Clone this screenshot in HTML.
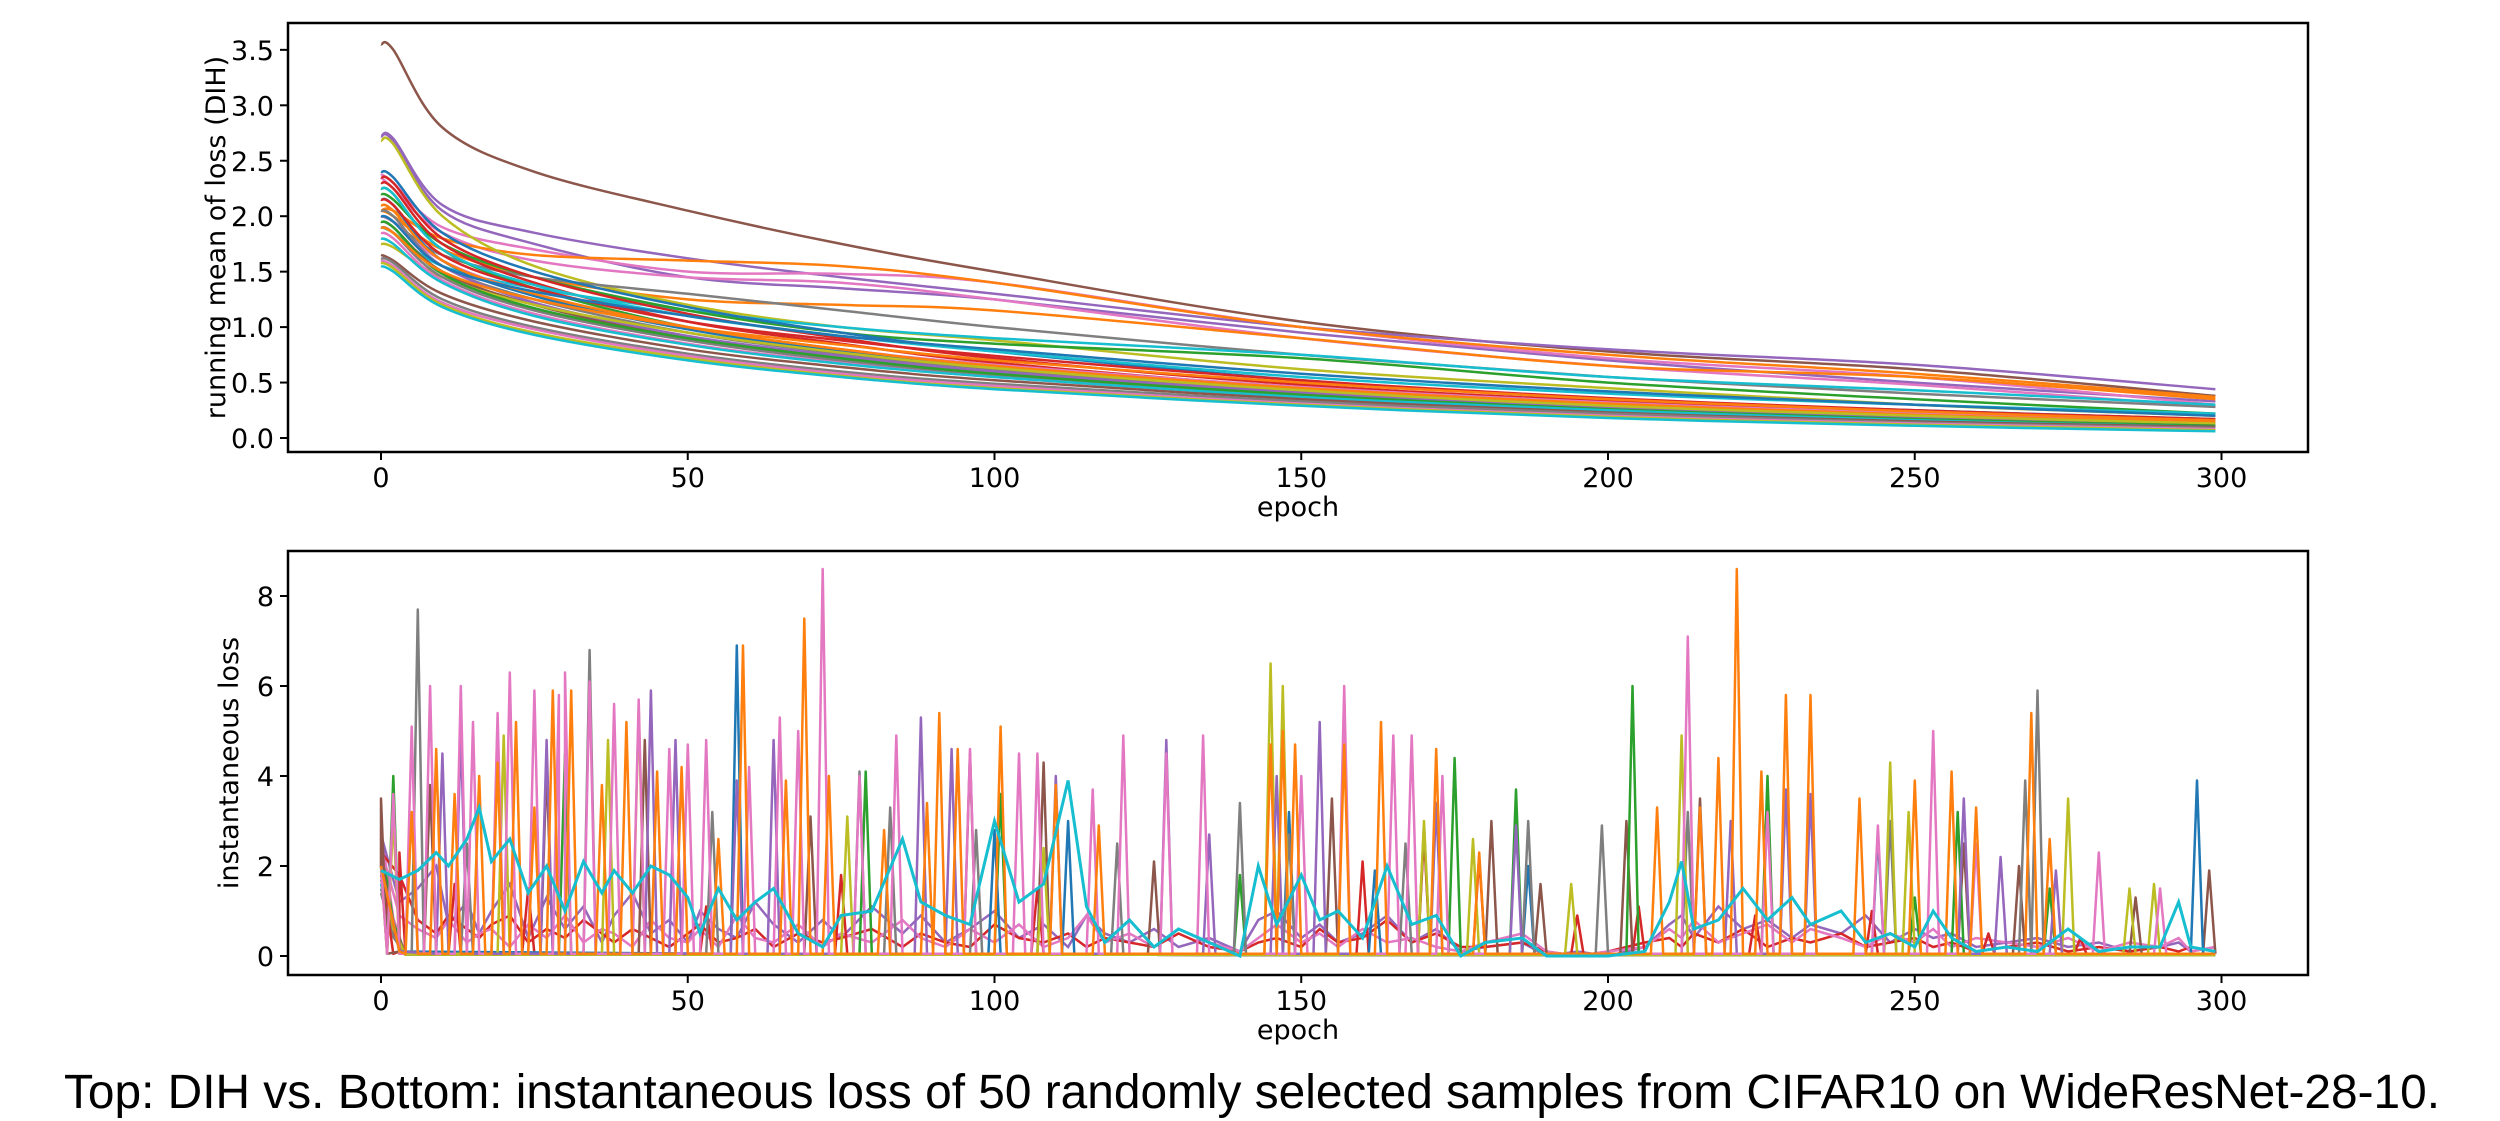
<!DOCTYPE html>
<html><head><meta charset="utf-8"><style>
html,body{margin:0;padding:0;background:#fff;width:2500px;height:1121px;overflow:hidden}
svg{display:block}
text{font-family:"DejaVu Sans","Liberation Sans",sans-serif;fill:#000}
</style></head><body>
<svg id="chart" width="2500" height="1121">
<g id="top"></g>
<g id="bot"></g>
<text x="64" y="1108" textLength="2376" lengthAdjust="spacingAndGlyphs" style="font-family:'Liberation Sans',sans-serif;font-size:48px">Top: DIH vs. Bottom: instantaneous loss of 50 randomly selected samples from CIFAR10 on WideResNet-28-10.</text>
</svg>
<script>
const COLORS = ["#1f77b4","#ff7f0e","#2ca02c","#d62728","#9467bd","#8c564b","#e377c2","#7f7f7f","#bcbd22","#17becf"];
// top chart data
const topEpochs = [0,2,10,25,50,75,100,150,200,250,299];
const topColorIdx = [5,4,4,6,6,1,1,8,7,9,2,0,3,3,2,9,6,7,5,0,1,4,8,6,7,2,9,5,7,6,8,9,3,0,1];
const topSeries = [
[3.55,3.5,2.8,2.4,2.05,1.75,1.5,1.05,0.78,0.62,0.38],
[2.72,2.7,2.1,1.85,1.62,1.45,1.3,1.0,0.8,0.66,0.44],
[2.72,2.68,2.05,1.75,1.45,1.35,1.25,0.95,0.7,0.5,0.33],
[2.38,2.3,1.9,1.7,1.5,1.48,1.4,1.0,0.72,0.55,0.3],
[2.35,2.25,1.85,1.6,1.45,1.4,1.25,0.9,0.65,0.48,0.28],
[2.05,2.05,1.8,1.65,1.6,1.55,1.4,1.0,0.75,0.58,0.37],
[2.05,2.0,1.7,1.45,1.25,1.2,1.15,0.9,0.65,0.55,0.35],
[2.68,2.65,2.0,1.55,1.2,1.0,0.88,0.62,0.45,0.3,0.2],
[2.0,1.95,1.65,1.45,1.3,1.15,1.0,0.75,0.55,0.4,0.28],
[1.9,1.85,1.55,1.35,1.15,1.0,0.9,0.75,0.55,0.43,0.3],
[2.2,2.15,1.75,1.45,1.15,0.95,0.85,0.72,0.5,0.35,0.22],
[2.4,2.35,1.85,1.5,1.18,0.95,0.78,0.52,0.35,0.25,0.17],
[2.35,2.3,1.8,1.45,1.12,0.9,0.72,0.48,0.33,0.22,0.15],
[2.3,2.25,1.75,1.4,1.05,0.85,0.68,0.45,0.3,0.2,0.14],
[2.25,2.2,1.7,1.35,1.0,0.8,0.65,0.43,0.29,0.2,0.13],
[2.25,2.2,1.7,1.38,1.1,0.92,0.78,0.55,0.4,0.3,0.22],
[2.0,1.95,1.6,1.3,1.0,0.8,0.66,0.46,0.32,0.22,0.15],
[2.05,2.0,1.55,1.25,0.95,0.76,0.62,0.42,0.28,0.19,0.13],
[1.95,1.9,1.5,1.2,0.9,0.72,0.59,0.4,0.27,0.18,0.12],
[2.15,2.1,1.6,1.28,0.98,0.78,0.64,0.44,0.3,0.2,0.13],
[2.1,2.05,1.6,1.3,1.0,0.8,0.65,0.45,0.31,0.21,0.14],
[2.0,1.95,1.55,1.22,0.92,0.74,0.6,0.41,0.28,0.19,0.12],
[1.75,1.72,1.45,1.2,0.95,0.77,0.63,0.43,0.29,0.2,0.13],
[1.85,1.8,1.42,1.12,0.85,0.68,0.55,0.37,0.25,0.16,0.1],
[1.9,1.85,1.45,1.15,0.88,0.7,0.57,0.38,0.26,0.17,0.11],
[1.95,1.9,1.48,1.17,0.9,0.72,0.58,0.39,0.26,0.17,0.11],
[1.8,1.75,1.4,1.1,0.84,0.67,0.55,0.37,0.25,0.16,0.1],
[1.65,1.6,1.3,1.05,0.8,0.64,0.52,0.35,0.23,0.15,0.1],
[1.62,1.58,1.25,1.0,0.76,0.6,0.49,0.33,0.22,0.14,0.09],
[1.6,1.55,1.22,0.98,0.74,0.58,0.47,0.31,0.2,0.13,0.08],
[1.58,1.53,1.2,0.95,0.72,0.56,0.45,0.3,0.19,0.12,0.07],
[1.55,1.5,1.18,0.93,0.7,0.55,0.44,0.29,0.18,0.11,0.06],
[2.15,2.1,1.65,1.35,1.05,0.88,0.74,0.52,0.36,0.25,0.17],
[2.0,1.95,1.55,1.32,1.1,0.92,0.8,0.58,0.42,0.3,0.2],
[1.9,1.85,1.5,1.25,1.0,0.84,0.7,0.5,0.35,0.24,0.16]
];
const topYTicks = [0,0.5,1,1.5,2,2.5,3,3.5];
const topYTickLabels = ["0.0","0.5","1.0","1.5","2.0","2.5","3.0","3.5"];
const xTicks = [0,50,100,150,200,250,300];
const xTickLabels = ["0","50","100","150","200","250","300"];
// bottom chart data
const botYTicks = [0,2,4,6,8];
const botYTickLabels = ["0","2","4","6","8"];
const botStarts = [2.6,2.2,1.9,2.4,1.7,2.0,2.8,1.5,2.3,1.6,2.1,2.5,1.8,2.2,1.4,2.0];
const botStartColorIdx = [0,1,2,3,4,5,6,7,8,9,0,2,3,5,7,8];
const botSpikeColorIdx = [3,5,2,0,7,8,4,6,1];
const botSpikes = [
[[3,2.3],[12,1.6],[24,1.5],[53,1.1],[75,1.8],[107,1.5],[160,2.1],[170,2.7],[179,2.2],[195,0.9],[205,1.1],[224,0.9],[243,1.0],[262,0.5],[277,0.4]],
[[0,3.5],[8,3.8],[27,4.2],[43,4.8],[70,3.1],[96,4.5],[108,4.3],[126,2.1],[155,3.5],[170,2.9],[181,3.0],[189,1.6],[203,3.0],[215,3.5],[258,2.5],[267,2.0],[286,1.3],[298,1.9]],
[[2,4.0],[30,4.5],[79,4.1],[101,3.6],[140,1.8],[175,4.4],[185,3.7],[204,6.0],[226,4.0],[250,1.3],[257,3.2],[272,1.5]],
[[58,6.9],[100,2.8],[112,3.0],[148,3.2],[162,1.9],[187,2.0],[244,2.7],[296,3.9]],
[[6,7.7],[14,2.5],[34,6.8],[54,3.2],[78,4.1],[83,3.3],[97,2.8],[120,2.5],[140,3.4],[148,2.7],[167,2.5],[187,3.0],[199,2.9],[213,3.2],[246,3.0],[268,3.9],[270,5.9]],
[[2,3.1],[20,4.9],[37,4.8],[42,5.5],[76,3.1],[108,2.4],[145,6.5],[147,6.0],[170,3.0],[178,2.6],[194,1.6],[212,4.9],[246,4.3],[249,3.2],[275,3.5],[285,1.5],[289,1.6]],
[[10,4.5],[13,5.0],[27,4.8],[44,5.9],[48,4.8],[58,3.9],[64,4.8],[88,5.3],[93,4.6],[110,4.0],[128,4.8],[135,2.7],[146,4.0],[153,5.2],[172,3.4],[185,2.9],[220,3.0],[229,3.7],[233,3.6],[258,3.5],[264,2.2],[273,1.9]],
[[2,3.6],[5,5.1],[8,6.0],[13,6.0],[15,5.2],[19,5.4],[21,6.3],[25,5.9],[29,5.8],[30,6.3],[34,6.1],[38,5.6],[42,5.7],[47,4.6],[50,4.7],[53,4.8],[60,4.2],[65,5.3],[68,5.0],[72,8.6],[78,4.0],[84,4.9],[96,4.6],[104,4.5],[107,4.5],[116,3.7],[121,4.9],[128,4.5],[134,4.9],[150,4.0],[157,6.0],[165,4.9],[168,4.9],[173,4.0],[213,7.1],[226,3.2],[244,2.9],[253,5.0],[260,2.5],[280,2.3],[290,1.5]],
[[5,3.2],[9,4.6],[12,3.6],[16,4.0],[19,4.3],[22,5.2],[25,3.3],[28,5.9],[31,5.9],[36,3.8],[40,5.2],[45,4.1],[49,4.2],[55,2.6],[59,6.9],[66,3.9],[69,7.5],[73,4.0],[82,2.8],[89,3.4],[91,5.4],[94,4.6],[101,5.1],[110,3.8],[117,2.9],[145,4.7],[147,5.0],[149,4.7],[157,4.7],[163,5.2],[172,4.6],[179,2.3],[208,3.3],[215,3.3],[218,4.4],[221,8.6],[225,4.1],[229,5.8],[233,5.8],[241,3.5],[250,3.9],[256,4.1],[260,3.3],[269,5.4],[272,2.6]]
];
const cyanEpochs = [0,3,6,9,11,14,16,18,21,24,27,30,33,36,38,41,44,47,50,52,55,58,61,64,68,72,75,80,85,88,92,96,100,104,108,112,115,118,122,126,130,135,140,143,146,150,153,156,160,164,168,172,176,180,186,190,195,200,206,210,212,214,218,222,226,230,233,238,242,246,250,253,256,260,265,270,275,280,285,290,293,295,299];
const cyanValues = [1.9,1.7,1.9,2.3,2.0,2.6,3.3,2.1,2.6,1.4,2.0,1.0,2.1,1.4,1.9,1.4,2.0,1.8,1.3,0.5,1.5,0.8,1.2,1.5,0.5,0.2,0.9,1.0,2.6,1.2,0.9,0.7,3.0,1.2,1.6,3.9,1.1,0.3,0.8,0.2,0.6,0.3,0.0,2.0,0.7,1.8,0.8,1.0,0.4,2.0,0.7,0.9,0.0,0.3,0.4,0.0,0.0,0.0,0.1,1.2,2.1,0.6,0.8,1.5,0.8,1.3,0.7,1.0,0.3,0.5,0.2,1.0,0.4,0.1,0.2,0.1,0.6,0.1,0.2,0.2,1.2,0.2,0.1];
// low-level noisy series on the same epoch grid
const pinkLowValues = [2.4,0.9,0.6,0.4,0.8,0.3,0.5,0.6,0.2,0.7,0.4,0.9,0.3,0.6,0.5,0.2,0.8,0.4,0.3,0.6,0.2,0.9,0.4,0.3,0.7,0.2,0.5,0.3,0.8,0.4,0.2,0.6,0.3,0.7,0.2,0.4,0.9,0.3,0.5,0.2,0.6,0.3,0.1,0.4,0.7,0.3,0.5,0.2,0.6,0.3,0.4,0.2,0.1,0.3,0.5,0.1,0.0,0.1,0.2,0.6,0.4,0.8,0.3,0.5,0.7,0.3,0.6,0.4,0.2,0.5,0.3,0.6,0.2,0.4,0.3,0.2,0.4,0.1,0.3,0.2,0.4,0.1,0.2];
const redLowValues = [2.3,1.8,0.8,0.5,0.9,0.6,0.4,0.7,0.9,0.3,0.6,0.4,0.8,0.5,0.3,0.6,0.4,0.2,0.5,0.7,0.3,0.4,0.6,0.2,0.5,0.3,0.4,0.6,0.2,0.5,0.3,0.2,0.7,0.4,0.3,0.5,0.2,0.4,0.3,0.2,0.5,0.2,0.1,0.3,0.4,0.2,0.6,0.3,0.4,0.8,0.3,0.5,0.2,0.2,0.3,0.1,0.0,0.1,0.3,0.4,0.2,0.5,0.3,0.6,0.2,0.4,0.3,0.5,0.2,0.3,0.4,0.2,0.3,0.1,0.2,0.3,0.1,0.2,0.1,0.2,0.1,0.2,0.1];
const purpleLowValues = [2.7,1.2,1.5,2.0,0.7,1.2,0.5,1.0,1.6,0.4,1.3,0.6,1.1,0.3,0.9,1.4,0.5,0.8,0.3,1.0,0.6,0.4,1.2,0.7,0.3,0.8,0.4,1.1,0.5,0.9,0.3,0.6,1.0,0.4,0.7,0.2,0.9,0.5,0.3,0.6,0.2,0.4,0.1,0.8,1.0,0.4,0.7,0.3,0.5,0.9,0.3,0.6,0.1,0.2,0.3,0.0,0.1,0.0,0.2,0.7,0.9,0.4,1.1,0.6,0.8,0.4,0.7,0.5,0.9,0.3,0.6,0.4,0.5,0.2,0.3,0.4,0.2,0.3,0.1,0.2,0.3,0.1,0.2];

const NS = "http://www.w3.org/2000/svg";
const X0 = 381, KX = 6.135;
function xs(e){ return X0 + e*KX; }
function yTop(v){ return 438 - v*110.9; }
function yBot(v){ return 956 - v*45; }
function mk(tag, attrs, parent){ const el=document.createElementNS(NS,tag); for(const k in attrs) el.setAttribute(k,attrs[k]); parent.appendChild(el); return el; }
function smoothPath(P){
  let d = "M"+P[0][0].toFixed(1)+","+P[0][1].toFixed(1);
  for(let i=0;i<P.length-1;i++){
    const p0=P[Math.max(0,i-1)], p1=P[i], p2=P[i+1], p3=P[Math.min(P.length-1,i+2)];
    const c1x=p1[0]+(p2[0]-p0[0])/6, c1y=p1[1]+(p2[1]-p0[1])/6;
    const c2x=p2[0]-(p3[0]-p1[0])/6, c2y=p2[1]-(p3[1]-p1[1])/6;
    d += " C"+c1x.toFixed(1)+","+c1y.toFixed(1)+" "+c2x.toFixed(1)+","+c2y.toFixed(1)+" "+p2[0].toFixed(1)+","+p2[1].toFixed(1);
  }
  return d;
}

function axes(g, top, bottom, yTicks, yLabels, yFn, yTitle, yTitleX, prefix){
  xTicks.forEach((t,i)=>{
    const l = mk("line",{x1:xs(t),x2:xs(t),y1:bottom,y2:bottom+8,stroke:"#000","stroke-width":2},g);
    
    
    const tx = mk("text",{x:xs(t),y:bottom+35,"text-anchor":"middle","font-size":27},g);
    tx.textContent = xTickLabels[i];
    
    
  });
  yTicks.forEach((t,i)=>{
    const y = yFn(t);
    const l = mk("line",{x1:280,x2:288,y1:y,y2:y,stroke:"#000","stroke-width":2},g);
    
    
    const tx = mk("text",{x:274,y:y+10,"text-anchor":"end","font-size":27},g);
    tx.textContent = yLabels[i];
    
    
  });
  const xt = mk("text",{x:(288+2308)/2,y:bottom+64,"text-anchor":"middle","font-size":27},g);
  xt.textContent = "epoch";
  
  
  const cy = (top+bottom)/2;
  const yt = mk("text",{x:yTitleX,y:cy,"text-anchor":"middle","font-size":27,transform:`rotate(-90 ${yTitleX} ${cy})`},g);
  yt.textContent = yTitle;
  
  
  const r = mk("rect",{x:288,y:top,width:2020,height:bottom-top,fill:"none",stroke:"#000","stroke-width":2.5},g);
  
  
}

// top chart
const gTop = document.getElementById("top");
topSeries.forEach((s,i)=>{
  const P = s.map((v,j)=>[xs(topEpochs[j]), yTop(v)]);
  const p = mk("path",{d:smoothPath(P),fill:"none",stroke:COLORS[topColorIdx[i]],"stroke-width":2.5},gTop);
  
  
});
axes(gTop, 23, 452, topYTicks, topYTickLabels, yTop, "running mean of loss (DIH)", 225, "top");

// bottom chart
const gBot = document.getElementById("bot");
botStarts.forEach((v,i)=>{
  const pts = [[0,v],[2,v*0.3],[4,0.03],[299,0.02]].map(p=>xs(p[0]).toFixed(1)+","+yBot(p[1]).toFixed(1)).join(" ");
  const p = mk("polyline",{points:pts,fill:"none",stroke:COLORS[botStartColorIdx[i]],"stroke-width":2.5},gBot);
  
  
});
[[purpleLowValues,4],[redLowValues,3],[pinkLowValues,6]].forEach(([vals,ci])=>{
  const s = cyanEpochs.map((e,j)=>xs(e).toFixed(1)+","+yBot(vals[j]).toFixed(1)).join(" ");
  const p = mk("polyline",{points:s,fill:"none",stroke:COLORS[ci],"stroke-width":2.5},gBot);
  
  
});
botSpikes.forEach((sp,i)=>{
  const pts = [[0,2.0],[3,0.1]];
  sp.forEach(([e,v])=>{ pts.push([e-1,0.05]); pts.push([e,v]); pts.push([e+1,0.05]); });
  pts.push([299,0.05]);
  pts.sort((a,b)=>a[0]-b[0]);
  const s = pts.filter(p=>p[0]>=0&&p[0]<=299).map(p=>xs(p[0]).toFixed(1)+","+yBot(p[1]).toFixed(1)).join(" ");
  const p = mk("polyline",{points:s,fill:"none",stroke:COLORS[botSpikeColorIdx[i]],"stroke-width":2.5,"stroke-linejoin":"round"},gBot);
  
  
});
{
  const s = cyanEpochs.map((e,j)=>xs(e).toFixed(1)+","+yBot(cyanValues[j]).toFixed(1)).join(" ");
  const p = mk("polyline",{points:s,fill:"none",stroke:COLORS[9],"stroke-width":3},gBot);
  
  
}
axes(gBot, 551, 975, botYTicks, botYTickLabels, yBot, "instantaneous loss", 238, "bottom");
</script>
</body></html>
